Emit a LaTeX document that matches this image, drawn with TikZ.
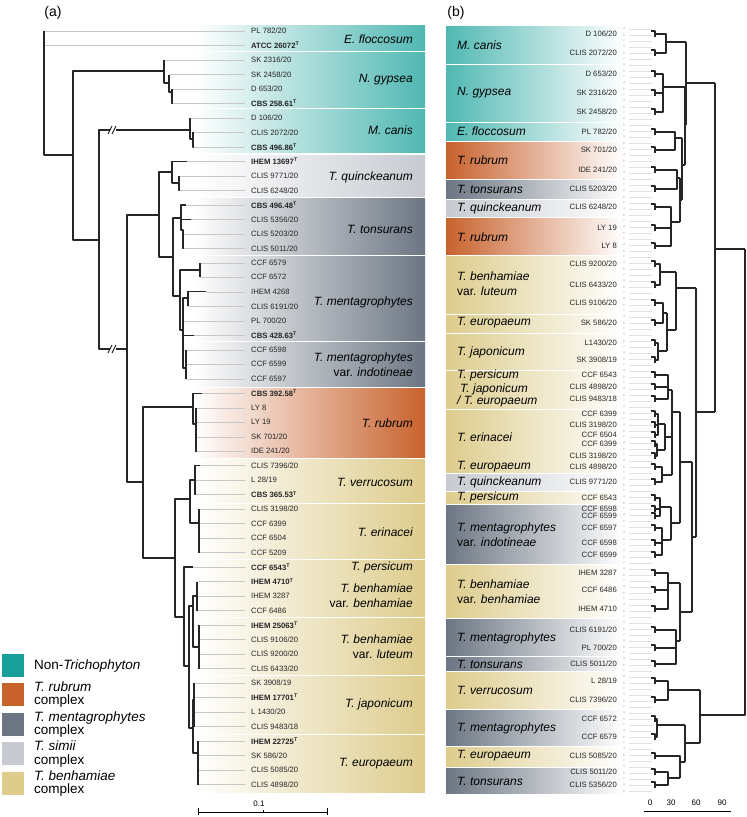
\documentclass[tikz,border=0pt]{standalone}
\usepackage{fontspec}
\setmainfont{Liberation Sans}
\definecolor{nontri}{RGB}{22,160,153}
\definecolor{rubcol}{RGB}{200,98,45}
\definecolor{mentcol}{RGB}{108,118,131}
\definecolor{simcol}{RGB}{199,203,209}
\definecolor{bencol}{RGB}{221,204,140}

\begin{document}
\begin{tikzpicture}[line join=round,x=1pt,y=-1pt,
  branch/.style={line width=1.3pt,black!85},
  tipline/.style={line width=0.45pt,black!22},
  rowline/.style={line width=0.3pt,black!12},
  tiplabel/.style={anchor=west,inner sep=0pt,text=black!85,font=\fontsize{7.7}{9}\selectfont},
  samplabel/.style={anchor=east,inner sep=0pt,text=black!85,font=\fontsize{7.7}{9}\selectfont},
  cladea/.style={anchor=east,inner sep=0pt,align=right,font=\fontsize{12}{15}\selectfont\itshape},
  cladeb/.style={anchor=west,inner sep=0pt,align=left,font=\fontsize{12}{15}\selectfont\itshape},
  abc/.style={inner sep=0pt,text=black!30,font=\fontsize{3.5}{4}\selectfont},
  keytext/.style={anchor=west,inner sep=0pt,align=left,font=\fontsize{13.5}{13.5}\selectfont}]
\useasboundingbox (0,0) rectangle (747,817);
\fill[white] (0,0) rectangle (747,817);

\node (ta) at (53,13) {\fontsize{14}{14}\selectfont (a)};
\node (tb) at (456,13) {\fontsize{14}{14}\selectfont (b)};

% (a) clade bands
\foreach \ya/\yb/\c in {25.5/50/nontri!75,52/107.5/nontri!75,109.5/152.5/nontri!75,
  155/196/simcol,198/254.5/mentcol,256.5/340.5/mentcol,342.5/386.5/mentcol,
  388.5/457/rubcol,459/502.5/bencol,504.5/558/bencol,560/575/bencol,576.5/616.5/bencol,
  618/674.5/bencol,676.5/733.5/bencol,735.5/792.5/bencol}
  \shade[left color=white,right color=\c] (195,\ya) rectangle (425,\yb);

% (a) tips and strain names
\foreach \i/\tx/\t in {0/44/{PL 782/20},1/44/{\bfseries ATCC 26072\textsuperscript{T}},
  2/164/{SK 2316/20},3/169/{SK 2458/20},4/172/{D 653/20},5/173/{\bfseries CBS 258.61\textsuperscript{T}},
  6/190/{D 106/20},7/193/{CLIS 2072/20},8/194/{\bfseries CBS 496.86\textsuperscript{T}},
  9/187/{\bfseries IHEM 13697\textsuperscript{T}},10/179/{CLIS 9771/20},11/180/{CLIS 6248/20},
  12/186/{\bfseries CBS 496.48\textsuperscript{T}},13/191/{CLIS 5356/20},14/183/{CLIS 5203/20},15/184/{CLIS 5011/20},
  16/200/{CCF 6579},17/200/{CCF 6572},18/206/{IHEM 4268},19/188/{CLIS 6191/20},20/184/{PL 700/20},
  21/194/{\bfseries CBS 428.63\textsuperscript{T}},
  22/186/{CCF 6598},23/186/{CCF 6599},24/186/{CCF 6597},
  25/202/{\bfseries CBS 392.58\textsuperscript{T}},26/196/{LY 8},27/196/{LY 19},28/196/{SK 701/20},29/197/{IDE 241/20},
  30/200/{CLIS 7396/20},31/196/{L 28/19},32/196/{\bfseries CBS 365.53\textsuperscript{T}},
  33/199/{CLIS 3198/20},34/199/{CCF 6399},35/199/{CCF 6504},36/199/{CCF 5209},
  37/193/{\bfseries CCF 6543\textsuperscript{T}},
  38/198/{\bfseries IHEM 4710\textsuperscript{T}},39/197/{IHEM 3287},40/197/{CCF 6486},
  41/199/{\bfseries IHEM 25063\textsuperscript{T}},42/200/{CLIS 9106/20},43/199/{CLIS 9200/20},44/199/{CLIS 6433/20},
  45/194/{SK 3908/19},46/195/{\bfseries IHEM 17701\textsuperscript{T}},47/194/{L 1430/20},48/195/{CLIS 9483/18},
  49/198/{\bfseries IHEM 22725\textsuperscript{T}},50/198/{SK 586/20},51/198/{CLIS 5085/20},52/198/{CLIS 4898/20}}
{
  \draw[tipline] (\tx,{31+14.49*\i}) -- (245,{31+14.49*\i});
  \node[tiplabel] (la\i) at (251,{31+14.49*\i}) {\t};
}

% (a) tree
\draw[branch] (73,155) -- (44,155) -- (44,31);
\draw[branch] (164,71) -| (73,240) -- (99,240);
\draw[branch] (164,60) -- (164,83) -- (169,83);
\draw[branch] (169,74.5) -- (169,92) -- (172,92);
\draw[branch] (172,89) -- (172,103.5) -- (173,103.5);
\draw[branch] (190,130) -| (99,349) -- (127,349);
\draw[branch] (190,118) -- (190,139) -- (193,139);
\draw[branch] (193,132.4) -- (193,147) -- (194,147);
\draw[branch] (159,215) -| (127,482) -- (143,482);
\draw[branch] (172,172) -| (159,257) -- (173,257);
\draw[branch] (187,161.4) -| (172,183) -- (179,183);
\draw[branch] (179,175.9) -- (179,190.4) -- (180,190.4);
\draw[branch] (181,218) -| (173,296) -- (180,296);
\draw[branch] (186,204.9) -| (181,230) -- (183,230) -- (183,248.4) -- (184,248.4);
\draw[branch] (181,219.4) -- (191,219.4);
\draw[branch] (200,270) -| (180,330) -- (183,330);
\draw[branch] (200,262.8) -- (200,277.3);
\draw[branch] (188,298) -| (183,368) -- (186,368);
\draw[branch] (206,291.8) -| (188,306.3);
\draw[branch] (183,320.8) -- (184,320.8);
\draw[branch] (183,335.3) -- (194,335.3);
\draw[branch] (186,349.8) -- (186,378.8);
\draw[branch] (193,407) -| (143,558) -- (175,558);
\draw[branch] (202,393.3) -| (193,424) -- (196,424);
\draw[branch] (196,407.7) -- (196,451.2) -- (197,451.2);
\draw[branch] (190,499) -| (175,617) -- (184,617);
\draw[branch] (195,480) -| (190,523) -- (199,523);
\draw[branch] (200,465.7) -| (195,494.7) -- (196,494.7);
\draw[branch] (199,509.2) -- (199,552.6);
\draw[branch] (193,567.1) -| (184,666) -- (189,666);
\draw[branch] (193,606) -| (189,728) -- (193,728);
\draw[branch] (197,596) -| (193,647) -- (199,647);
\draw[branch] (197,581.6) -- (197,610.6);
\draw[branch] (199,625.1) -- (199,668.6);
\draw[branch] (194,700) -| (193,753) -- (198,753);
\draw[branch] (194,683.1) -- (194,726.5);
\draw[branch] (198,741) -- (198,784.5);
% broken branches
\foreach \yb in {130,349}{
  \fill[white] (110,\yb-2) rectangle (116,\yb+2);
  \draw[line width=0.7pt] (108,\yb+4) -- (112,\yb-4) (112,\yb+4) -- (116,\yb-4);
}

% (a) clade names
\foreach \y/\t in {39/{E. floccosum},80/{N. gypsea},130/{M. canis},177/{T. quinckeanum},
  229/{T. tonsurans},302/{T. mentagrophytes},364.5/{T. mentagrophytes\\\upshape var. \itshape indotineae},
  423/{T. rubrum},482/{T. verrucosum},532/{T. erinacei},567/{T. persicum},
  596/{T. benhamiae\\\upshape var. \itshape benhamiae},647/{T. benhamiae\\\upshape var. \itshape luteum},
  704/{T. japonicum},764/{T. europaeum}}
  \node[cladea] (ca\y) at (413,\y) {\t};

% legend
\foreach \ya/\c in {654/nontri,683/rubcol,713/mentcol,742/simcol,772/bencol}
  \fill[\c] (2,\ya) rectangle (24,\ya+23);
\node[keytext] (k1) at (34,666) {Non-\textit{Trichophyton}};
\node[keytext] (k2) at (34,694.5) {\textit{T. rubrum}\\complex};
\node[keytext] (k3) at (34,724.5) {\textit{T. mentagrophytes}\\complex};
\node[keytext] (k4) at (34,754) {\textit{T. simii}\\complex};
\node[keytext] (k5) at (34,783.5) {\textit{T. benhamiae}\\complex};

% scale bar
\draw[line width=0.6pt] (198,808) -- (198,815) (198,812) -- (327,812) (327,808) -- (327,815) (263,810) -- (263,812);
\node[font=\fontsize{8}{8}\selectfont] (sc) at (259,804) {0.1};

% (b) clade bands
\foreach \ya/\yb/\c in {26/63.5/nontri!75,65.5/121/nontri!75,123/140/nontri!75,142/178/rubcol,
  180/198/mentcol,200/216/simcol,218.5/254/rubcol,256/313.5/bencol,315/332/bencol,334/369/bencol,
  371/381/bencol,382.5/408/bencol,410/461/bencol,462.5/472/bencol,474/490.5/simcol,492/503.5/bencol,
  505/563/mentcol,565/617.5/bencol,619.5/655/mentcol,657/670/mentcol,672/708/bencol,
  710/745.5/mentcol,747/766/bencol,768/793/mentcol}
  \shade[left color=\c,right color=white] (446,\ya) rectangle (623,\yb);

\foreach \y/\t in {45/{M. canis},93/{N. gypsea},131/{E. floccosum},160/{T. rubrum},189/{T. tonsurans},
  208/{T. quinckeanum},237/{T. rubrum},284/{T. benhamiae\\\upshape var. \itshape luteum},323/{T. europaeum},
  352/{T. japonicum},375/{T. persicum},437/{T. erinacei},467/{T. europaeum},482/{T. quinckeanum},
  497/{T. persicum},535/{T. mentagrophytes\\\upshape var. \itshape indotineae},
  591.5/{T. benhamiae\\\upshape var. \itshape benhamiae},638/{T. mentagrophytes},664/{T. tonsurans},
  690/{T. verrucosum},728/{T. mentagrophytes},756/{T. europaeum},781/{T. tonsurans}}
  \node[cladeb] (cb\y) at (457,\y) {\t};
\node[cladeb,font=\fontsize{12}{12}\selectfont\itshape] (cbje) at (457,395) {\hspace{3pt}T. japonicum\\/ T. europaeum};

% (b) replicate rows
\foreach \r in {0,...,127}{
  \pgfmathsetmacro\yy{29+6*\r}
  \pgfmathtruncatemacro\m{mod(\r,3)}
  \draw[rowline] (629,\yy) -- (652,\yy);
  \node[abc] (r\r) at (624,\yy) {\ifcase\m a\or b\or c\fi};
}

% (b) sample names and tips
\foreach \s/\t in {34/{D 106/20},53/{CLIS 2072/20},74/{D 653/20},93/{SK 2316/20},112/{SK 2458/20},
  132/{PL 782/20},150/{SK 701/20},170/{IDE 241/20},189/{CLIS 5203/20},207/{CLIS 6248/20},
  228/{LY 19},246/{LY 8},264/{CLIS 9200/20},285/{CLIS 6433/20},303/{CLIS 9106/20},323/{SK 586/20},
  343/{L1430/20},360/{SK 3908/19},375/{CCF 6543},387/{CLIS 4898/20},399/{CLIS 9483/18},
  414/{CCF 6399},425/{CLIS 3198/20},435/{CCF 6504},444/{CCF 6399},456/{CLIS 3198/20},
  467/{CLIS 4898/20},482/{CLIS 9771/20},498/{CCF 6543},509/{CCF 6598},516/{CCF 6599},
  528/{CCF 6597},543/{CCF 6598},555/{CCF 6599},573/{IHEM 3287},590/{CCF 6486},609/{IHEM 4710},
  630/{CLIS 6191/20},648/{PL 700/20},664/{CLIS 5011/20},681/{L 28/19},700/{CLIS 7396/20},
  719/{CCF 6572},737/{CCF 6579},756/{CLIS 5085/20},772/{CLIS 5011/20},785/{CLIS 5356/20}}
{
  \node[samplabel] (lb\s) at (617,\s) {\t};
  \draw[branch] (651,\s-3) -- (655,\s-3) -- (655,\s+3);
}

% (b) dendrogram
\draw[branch] (655,34) -| (666,53) -- (655,53);
\draw[branch] (666,42) -- (686,42);
\draw[branch] (655,74) -| (663,112) -- (655,112);
\draw[branch] (655,93) -- (663,93) (663,87) -- (685,87);
\draw[branch] (655,132) -| (675,150) -- (655,150);
\draw[branch] (675,138) -- (682,138);
\draw[branch] (655,170) -| (677,189) -- (655,189);
\draw[branch] (677,178) -- (680,178);
\draw[branch] (655,207) -| (671,246) -- (655,246);
\draw[branch] (655,228) -- (671,228) (671,222) -- (680,222);
\draw[branch] (680,178) -- (680,222) (680,200) -- (682,200);
\draw[branch] (682,138) -- (682,200) (682,165) -- (685,165);
\draw[branch] (685,87) -- (685,165) (685,125) -- (686,125);
\draw[branch] (686,42) -- (686,125) (686,83) -- (715,83);
\draw[branch] (715,83) -- (715,412) (715,249) -- (745,249);
\draw[branch] (745,249) -- (745,715) -- (700,715);
\draw[branch] (655,264) -| (660,285) -- (655,285);
\draw[branch] (660,272) -- (676,272);
\draw[branch] (655,303) -| (663,323) -- (655,323);
\draw[branch] (663,313) -- (667,313);
\draw[branch] (655,343) -| (658,360) -- (655,360);
\draw[branch] (658,351) -- (667,351);
\draw[branch] (667,313) -- (667,351) (667,330) -- (676,330);
\draw[branch] (676,272) -- (676,330) (676,288) -- (696,288);
\draw[branch] (655,375) -| (668,399) -- (655,399);
\draw[branch] (655,387) -- (668,387) (668,390) -- (672,390);
\draw[branch] (655,414) -| (658,435) -- (655,435);
\draw[branch] (655,425) -- (658,425) (658,424) -- (665,424);
\draw[branch] (655,444) -| (657,456) -- (655,456);
\draw[branch] (657,450) -- (665,450);
\draw[branch] (665,424) -- (665,450) (665,437) -- (672,437);
\draw[branch] (655,467) -| (662,482) -- (655,482);
\draw[branch] (662,475) -- (672,475);
\draw[branch] (672,390) -- (672,475) (672,412) -- (680,412);
\draw[branch] (655,498) -| (660,516) -- (655,516);
\draw[branch] (655,509) -- (660,509) (660,507) -- (671,507);
\draw[branch] (655,528) -| (662,555) -- (655,555);
\draw[branch] (655,543) -- (662,543) (662,540) -- (671,540);
\draw[branch] (671,507) -- (671,540) (671,523) -- (680,523);
\draw[branch] (680,412) -- (680,523) (680,462) -- (692,462);
\draw[branch] (655,573) -| (668,609) -- (655,609);
\draw[branch] (655,590) -- (668,590) (668,583) -- (680,583);
\draw[branch] (655,630) -| (676,664) -- (655,664);
\draw[branch] (655,648) -- (676,648) (676,641) -- (680,641);
\draw[branch] (680,583) -- (680,641) (680,612) -- (692,612);
\draw[branch] (692,462) -- (692,612) (692,537) -- (696,537);
\draw[branch] (696,288) -- (696,537) (696,412) -- (715,412);
\draw[branch] (655,681) -| (668,700) -- (655,700);
\draw[branch] (668,690) -- (700,690);
\draw[branch] (655,719) -| (657,737) -- (655,737);
\draw[branch] (657,725) -- (685,725);
\draw[branch] (655,772) -| (668,785) -- (655,785);
\draw[branch] (668,778) -- (680,778) (655,756) -| (680,778) (680,762) -- (685,762);
\draw[branch] (685,725) -- (685,762) (685,743) -- (700,743);
\draw[branch] (700,690) -- (700,743);

% (b) axis
\foreach \v/\x in {0/650,30/671,60/696,90/722}
  \node[font=\fontsize{8}{8}\selectfont] (ax\v) at (\x,803) {\v};
\draw[line width=0.6pt] (644,811) -- (731,811);
\end{tikzpicture}
\end{document}
